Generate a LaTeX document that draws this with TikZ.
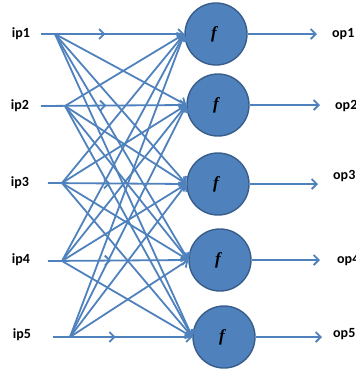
\documentclass[tikz,border=0pt]{standalone}
\usepackage{fontspec}
\setmainfont{Carlito}
\newfontfamily\mathlike{Liberation Serif}
\usetikzlibrary{arrows.meta,decorations.markings}
\definecolor{wireblue}{HTML}{4F81BD}
\definecolor{rimblue}{HTML}{385D8A}
\begin{document}
\begin{tikzpicture}[x=1pt,y=-1pt,
  neuron/.style={circle,fill=wireblue,draw=rimblue,line width=1.4pt,minimum size=62pt,inner sep=0pt},
  lbl/.style={font=\fontsize{14}{14}\selectfont\bfseries,inner sep=0pt},
  link/.style={draw=wireblue,line width=1.8pt,-{Straight Barb[length=5pt,width=10pt]}},
  midtip/.style={postaction={decorate},decoration={markings,
    mark=at position #1 with {\arrow[wireblue,line width=1.8pt]{Straight Barb[length=5pt,width=10pt]}}}}
]
\useasboundingbox (0,0) rectangle (356,370);

% input labels
\node[lbl] (ip1) at (21,34) {ip1};
\node[lbl] (ip2) at (20,106) {ip2};
\node[lbl] (ip3) at (20,183) {ip3};
\node[lbl] (ip4) at (21,260) {ip4};
\node[lbl] (ip5) at (22,335) {ip5};

% start of each input line and the point where its fan spreads out
\coordinate (a1) at (41,34);  \coordinate (s1) at (55,34);
\coordinate (a2) at (41,106); \coordinate (s2) at (65,106);
\coordinate (a3) at (48,183); \coordinate (s3) at (62,183);
\coordinate (a4) at (48,261); \coordinate (s4) at (62,261);
\coordinate (a5) at (53,337); \coordinate (s5) at (70,337);

% neurons
\node[neuron] (c1) at (216,34) {};
\node[neuron] (c2) at (218,105) {};
\node[neuron] (c3) at (218,184) {};
\node[neuron] (c4) at (220,260) {};
\node[neuron] (c5) at (224,337) {};
\foreach \i in {1,...,5} {\node at ([xshift=-2pt]c\i) {\fontsize{17}{17}\selectfont\mathlike\bfseries\itshape f};}

% straight input lines
\foreach \i in {1,...,5} {\draw[link,midtip=0.45] (a\i) -- (c\i.west);}

% fully connected fan
\foreach \i in {1,...,5} {
  \foreach \j in {1,...,5} {
    \ifnum\i=\j\relax\else \draw[link] (s\i) -- (c\j.west);\fi
  }
}

% outputs
\coordinate (o1) at (317,34);
\coordinate (o2) at (320,105);
\coordinate (o3) at (318,184);
\coordinate (o4) at (320,260);
\coordinate (o5) at (322,337);
\foreach \i in {1,...,5} {\draw[link] (c\i.east) -- (o\i);}

\node[lbl,anchor=west] (op1) at (332,34) {op1};
\node[lbl,anchor=west] (op2) at (335,106) {op2};
\node[lbl,anchor=west] (op3) at (333,176) {op3};
\node[lbl,anchor=west] (op4) at (337,260) {op4};
\node[lbl,anchor=west] (op5) at (333,334) {op5};
\end{tikzpicture}
\end{document}
